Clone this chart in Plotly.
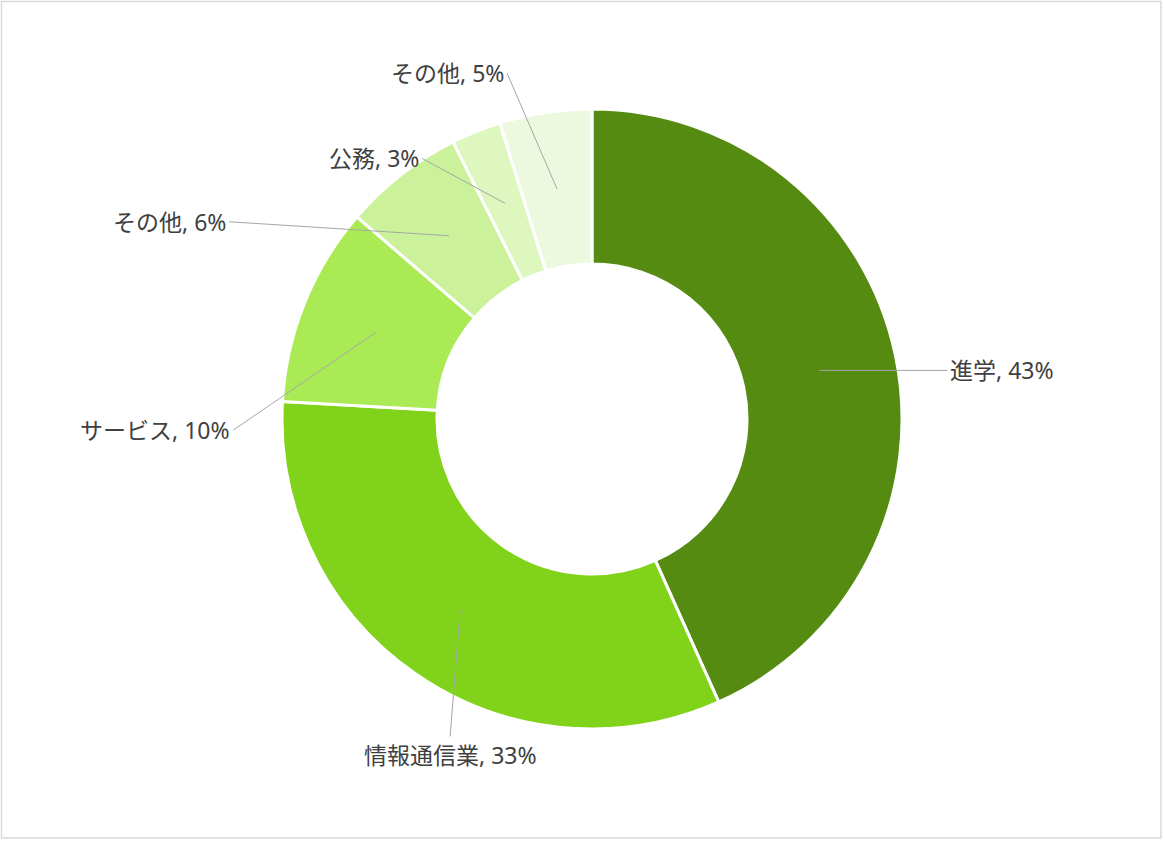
import math
import plotly.graph_objects as go

# Data (clockwise from 12 o'clock)
labels = ["進学", "情報通信業", "サービス", "その他", "公務", "その他 "]
values = [43.3, 32.6, 10.4, 6.3, 2.6, 4.8]
colors = ["#558B11", "#80D31A", "#A9EA55", "#CBF29A", "#DDF7BF", "#EDF9DF"]

# Label placement: offset of the leader end from the leader start (px) and text anchor
label_dx = [128, -10, -143, -220, -83, -50]
label_dy = [0, 126, 98, -14, -45, -116]
label_xanchor = ["left", "center", "right", "right", "right", "right"]
label_yanchor = ["middle", "top", "middle", "middle", "middle", "middle"]

W, H = 1165, 842
cx, cy, r_out = 592, 419, 310
hole = 0.5

fig = go.Figure(go.Pie(
    labels=labels,
    values=values,
    hole=hole,
    sort=False,
    direction="clockwise",
    rotation=0,
    textinfo="none",
    marker=dict(colors=colors, line=dict(color="white", width=3)),
    domain=dict(x=[(cx - r_out) / W, (cx + r_out) / W],
                y=[1 - (cy + r_out) / H, 1 - (cy - r_out) / H]),
    hoverinfo="label+percent",
))

# Leader lines + labels computed from slice mid-angles
total = sum(values)
r_mid = r_out * (1 + hole) / 2
annotations = []
cum = 0
for i, (lab, v) in enumerate(zip(labels, values)):
    ang = 2 * math.pi * (cum + v / 2) / total
    cum += v
    px = cx + r_mid * math.sin(ang)
    py = cy - r_mid * math.cos(ang)
    annotations.append(dict(
        x=px / W, y=1 - py / H, xref="paper", yref="paper",
        ax=label_dx[i], ay=label_dy[i],
        xanchor=label_xanchor[i], yanchor=label_yanchor[i],
        text=f"{lab.strip()}, {round(100 * v / total)}%",
        showarrow=True, arrowhead=0, arrowwidth=1, arrowcolor="#A6A6A6",
        standoff=0, startstandoff=0, borderpad=2,
        font=dict(family="Noto Sans, Noto Sans CJK JP", size=23, color="#404040"),
    ))

fig.update_layout(
    width=W, height=H,
    margin=dict(l=0, r=0, t=0, b=0),
    paper_bgcolor="white",
    showlegend=False,
    annotations=annotations,
    shapes=[dict(type="rect", xref="paper", yref="paper",
                 x0=1.5 / W, x1=1 - 4 / W, y0=4 / H, y1=1 - 1.5 / H,
                 line=dict(color="#D9D9D9", width=1.5))],
)

fig.write_html("out.html", config={"displayModeBar": False},
               post_script="document.body.style.margin='0';")
